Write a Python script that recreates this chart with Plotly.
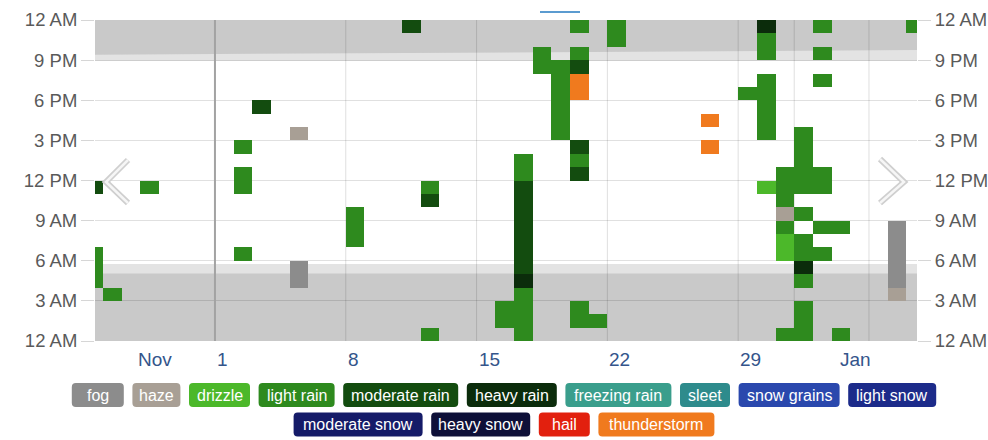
import plotly.graph_objects as go

# ---------------- data ----------------
# x = day offset from Dec 1 (0 = Dec 1, negative = late Nov, 31 = Jan 1)
# y = hour of day (0 = 12 AM)
# each run: (day, start_hour, number_of_hours)
light_rain = [
    (-7, 4, 3), (-6, 3, 1), (-4, 11, 1),
    (1, 6, 1), (1, 11, 2), (1, 14, 1),
    (7, 7, 3),
    (11, 0, 1), (11, 11, 1),
    (15, 1, 2),
    (16, 0, 4), (16, 12, 2),
    (17, 20, 2),
    (18, 15, 6),
    (19, 1, 2), (19, 13, 1), (19, 21, 1), (19, 23, 1),
    (20, 1, 1),
    (21, 22, 2),
    (28, 18, 1),
    (29, 15, 5), (29, 21, 2),
    (30, 0, 1), (30, 8, 1), (30, 10, 3),
    (31, 0, 3), (31, 4, 1), (31, 6, 2), (31, 9, 1), (31, 11, 5),
    (32, 6, 1), (32, 8, 1), (32, 11, 2), (32, 19, 1), (32, 21, 1), (32, 23, 1),
    (33, 0, 1), (33, 8, 1),
    (37, 23, 1),
]
moderate_rain = [(-7, 11, 1), (2, 17, 1), (10, 23, 1), (11, 10, 1),
                 (16, 5, 7), (19, 12, 1), (19, 14, 1), (19, 20, 1)]
heavy_rain = [(16, 4, 1), (29, 23, 1), (31, 5, 1)]
drizzle = [(29, 11, 1), (30, 6, 2)]
haze = [(4, 15, 1), (30, 9, 1), (36, 3, 1)]
fog = [(4, 4, 2), (36, 4, 5)]
thunderstorm = [(19, 18, 2), (26, 14, 1), (26, 16, 1)]

condition_names = ["fog", "haze", "drizzle", "light rain", "moderate rain",
                   "heavy rain", "freezing rain", "sleet", "snow grains",
                   "light snow", "moderate snow", "heavy snow", "hail",
                   "thunderstorm"]
condition_colors = ["#8c8c8c", "#a89f95", "#4cb82a", "#2e8a1e", "#134c0f",
                    "#0b2c0b", "#3a9e8c", "#2e8b8c", "#2a48ad", "#1c2b8a",
                    "#151b68", "#0e1038", "#e2200e", "#f07a1e"]
condition_runs = {"fog": fog, "haze": haze, "drizzle": drizzle,
                  "light rain": light_rain, "moderate rain": moderate_rain,
                  "heavy rain": heavy_rain, "thunderstorm": thunderstorm}

hour_tick_values = [0, 3, 6, 9, 12, 15, 18, 21, 24]
hour_tick_labels = ["12 AM", "3 AM", "6 AM", "9 AM", "12 PM",
                    "3 PM", "6 PM", "9 PM", "12 AM"]
week_tick_days = [0, 7, 14, 21, 28]
week_tick_labels = ["1", "8", "15", "22", "29"]
month_labels = ["Nov", "Jan"]
month_starts = [-30, 31]
month_ends = [0, 62]
x_range = [-6.42, 37.57]
week_gridlines = [7, 14, 21, 28, 35]
month_gridlines = [0, 31]

# night / twilight (hours)
night_morning_end = 5.05
twilight_morning_end = 5.75
twilight_evening_start = 20.95
night_evening_start_first = 21.4
night_evening_start_last = 21.75

# ---------------- layout constants (pixels) ----------------
W, H = 988, 440
ML, MR, MT, MB = 95, 71, 20, 99
PW, PH = W - ML - MR, H - MT - MB
FONT = "Liberation Sans, Arial, Helvetica, sans-serif"


def pxx(x):
    return (x - ML) / PW


def pxy(y):
    return (H - MB - y) / PH


fig = go.Figure()

color_of = dict(zip(condition_names, condition_colors))
for name, runs in condition_runs.items():
    fig.add_trace(go.Bar(
        x=[d + 0.5 for d, h, n in runs],
        y=[n for d, h, n in runs],
        base=[h for d, h, n in runs],
        width=1,
        marker=dict(color=color_of[name], line=dict(width=0)),
        name=name, showlegend=False, hoverinfo="skip",
    ))

# invisible trace for the right-hand axis
fig.add_trace(go.Scatter(x=[x_range[0]], y=[0], yaxis="y2", mode="markers",
                         marker=dict(opacity=0), showlegend=False,
                         hoverinfo="skip"))

shapes = []
# twilight bands
shapes.append(dict(type="rect", xref="x", yref="y", x0=x_range[0], x1=x_range[1],
                   y0=0, y1=twilight_morning_end, fillcolor="#e3e3e3",
                   line=dict(width=0), layer="below"))
shapes.append(dict(type="rect", xref="x", yref="y", x0=x_range[0], x1=x_range[1],
                   y0=twilight_evening_start, y1=24, fillcolor="#e3e3e3",
                   line=dict(width=0), layer="below"))
# night bands
shapes.append(dict(type="rect", xref="x", yref="y", x0=x_range[0], x1=x_range[1],
                   y0=0, y1=night_morning_end, fillcolor="#c9c9c9",
                   line=dict(width=0), layer="below"))
shapes.append(dict(type="path", xref="x", yref="y",
                   path=(f"M{x_range[0]},24 L{x_range[1]},24 "
                         f"L{x_range[1]},{night_evening_start_last} "
                         f"L{x_range[0]},{night_evening_start_first} Z"),
                   fillcolor="#c9c9c9", line=dict(width=0), layer="below"))
# vertical grid lines
for d in week_gridlines + month_gridlines:
    strong = d == 0
    shapes.append(dict(type="line", xref="x", yref="y", x0=d, x1=d, y0=0, y1=24,
                       line=dict(color="#a3a3a3" if strong else "rgba(0,0,0,0.13)",
                                 width=2 if strong else 1),
                       layer="between"))

# navigation chevrons
for pts in ([(128, 160), (106, 182), (128, 203)], [(880, 159), (904, 182), (880, 203)]):
    path = "M" + " L".join(f"{pxx(a)},{pxy(b)}" for a, b in pts)
    shapes.append(dict(type="path", xref="paper", yref="paper", path=path,
                       line=dict(color="#cfcfcf", width=6), layer="above"))
    shapes.append(dict(type="path", xref="paper", yref="paper", path=path,
                       line=dict(color="#f6f6f6", width=2.5), layer="above"))

# small blue indicator at the top
shapes.append(dict(type="line", xref="paper", yref="paper",
                   x0=pxx(540), x1=pxx(580), y0=pxy(12), y1=pxy(12),
                   line=dict(color="#5b9bd0", width=2)))

annotations = []
# x labels
for d, lab in zip(week_tick_days, week_tick_labels):
    annotations.append(dict(x=d, y=0, xref="x", yref="paper", text=lab,
                            xanchor="left", yanchor="top", showarrow=False,
                            xshift=0, yshift=-6,
                            font=dict(family=FONT, size=19, color="#34558b")))
for lab, s, e in zip(month_labels, month_starts, month_ends):
    a, b = max(s, x_range[0]), min(e, x_range[1])
    annotations.append(dict(x=(a + b) / 2, y=0, xref="x", yref="paper", text=lab,
                            xanchor="center", yanchor="top", showarrow=False,
                            yshift=-6,
                            font=dict(family=FONT, size=19, color="#34558b")))

# legend chips
chip_rows = [condition_names[:10], condition_names[10:]]
chip_widths = {"fog": 52, "haze": 48, "drizzle": 61, "light rain": 76,
               "moderate rain": 115, "heavy rain": 90, "freezing rain": 106,
               "sleet": 50, "snow grains": 101, "light snow": 88,
               "moderate snow": 129, "heavy snow": 99, "hail": 51,
               "thunderstorm": 116}
row_centers = [395, 424.5]
gap, chip_h, r, center_x = 8.6, 24, 4, 504
for row, cy in zip(chip_rows, row_centers):
    total = sum(chip_widths[n] for n in row) + gap * (len(row) - 1)
    x = center_x - total / 2
    for n in row:
        w = chip_widths[n]
        x0, x1, y0, y1 = x, x + w, cy - chip_h / 2, cy + chip_h / 2
        pts = (f"M{pxx(x0 + r)},{pxy(y0)} L{pxx(x1 - r)},{pxy(y0)} "
               f"Q{pxx(x1)},{pxy(y0)} {pxx(x1)},{pxy(y0 + r)} "
               f"L{pxx(x1)},{pxy(y1 - r)} Q{pxx(x1)},{pxy(y1)} {pxx(x1 - r)},{pxy(y1)} "
               f"L{pxx(x0 + r)},{pxy(y1)} Q{pxx(x0)},{pxy(y1)} {pxx(x0)},{pxy(y1 - r)} "
               f"L{pxx(x0)},{pxy(y0 + r)} Q{pxx(x0)},{pxy(y0)} {pxx(x0 + r)},{pxy(y0)} Z")
        shapes.append(dict(type="path", xref="paper", yref="paper", path=pts,
                           fillcolor=color_of[n], line=dict(width=0)))
        annotations.append(dict(x=pxx((x0 + x1) / 2), y=pxy(cy), xref="paper",
                                yref="paper", text=n, showarrow=False,
                                xanchor="center", yanchor="middle",
                                font=dict(family=FONT, size=16, color="white")))
        x = x1 + gap

yaxis_common = dict(range=[0, 24], tickmode="array", tickvals=hour_tick_values,
                    ticktext=hour_tick_labels, ticks="outside", ticklen=13,
                    tickcolor="#d6d6d6", tickwidth=1, zeroline=False,
                    showline=False, fixedrange=True, automargin=False,
                    tickfont=dict(family=FONT, size=18.5, color="#5a5a5a"))

fig.update_layout(
    width=W, height=H,
    margin=dict(l=ML, r=MR, t=MT, b=MB, pad=0),
    paper_bgcolor="white", plot_bgcolor="white",
    barmode="overlay", bargap=0,
    xaxis=dict(range=x_range, showgrid=False, zeroline=False, showline=False,
               showticklabels=False, ticks="", fixedrange=True, automargin=False),
    yaxis=dict(**yaxis_common, side="left", showgrid=True,
               gridcolor="rgba(0,0,0,0.12)", gridwidth=1),
    yaxis2=dict(**yaxis_common, side="right", overlaying="y", showgrid=False),
    shapes=shapes, annotations=annotations,
    font=dict(family=FONT),
)

fig.write_html("out.html", config={"displayModeBar": False},
               post_script="document.body.style.margin='0px';"
                           "document.body.style.overflow='hidden';")
